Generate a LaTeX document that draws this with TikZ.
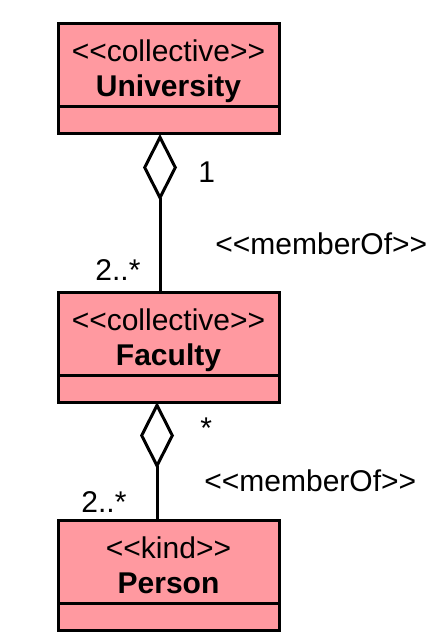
\documentclass[tikz,border=0pt]{standalone}
\usepackage{fontspec}
\setmainfont{Liberation Sans}
\usetikzlibrary{arrows.meta,positioning}
\definecolor{classpink}{HTML}{FF99A0}
\newcommand{\stereotype}[1]{<\kern0pt<#1>\kern0pt>}

\begin{document}
\begin{tikzpicture}[
  x=0.5pt, y=-0.5pt,
  font=\fontsize{15}{17.5}\selectfont,
  classbox/.style={
    rectangle,
    draw=black,
    fill=classpink,
    line width=1.5pt,
    outer sep=0pt,
    inner ysep=0pt,
    align=center,
    minimum width=110.5pt,
    minimum height=41.5pt
  },
  attrbox/.style={
    rectangle,
    draw=black,
    fill=classpink,
    line width=1.5pt,
    outer sep=0pt,
    inner sep=0pt,
    minimum width=110.5pt,
    minimum height=13.5pt
  },
  aggr/.style={-{Diamond[open,length=33.5pt,width=17pt]},line width=1.5pt,draw=black},
  mult/.style={inner sep=0pt,anchor=base west}
]
\useasboundingbox (0,0) rectangle (442,641);
\node[classbox,anchor=north] (univ) at (168.5,24) {\rule{0pt}{19pt}\stereotype{collective}\\\textbf{University}\rule[-5pt]{0pt}{5pt}};
\node[attrbox,below=0pt of univ] (univattr) {};
\node[classbox,below=79pt of univattr] (fac) {\rule{0pt}{19pt}\stereotype{collective}\\\textbf{Faculty}\rule[-5pt]{0pt}{5pt}};
\node[attrbox,below=0pt of fac] (facattr) {};
\node[classbox,below=59pt of facattr] (person) {\rule{0pt}{19pt}\stereotype{kind}\\\textbf{Person}\rule[-5pt]{0pt}{5pt}};
\node[attrbox,below=0pt of person] (personattr) {};
\draw[aggr] ([xshift=-4.25pt]fac.north) -- ([xshift=-4.25pt]univattr.south);
\draw[aggr] ([xshift=-5.75pt]person.north) -- ([xshift=-5.75pt]facattr.south);
\node[mult] (univmult) at (198,183) {1};
\node[mult] (facmult) at (95,280) {2..*};
\node[mult] (memberone) at (215,255) {\stereotype{memberOf}};
\node[mult] (facpart) at (200,438) {*};
\node[mult] (personmult) at (81,512) {2..*};
\node[mult] (membertwo) at (204,491) {\stereotype{memberOf}};
\end{tikzpicture}
\end{document}
